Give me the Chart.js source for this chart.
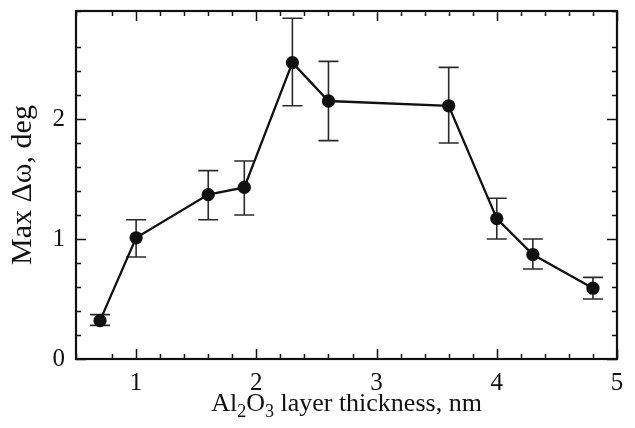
<!DOCTYPE html>
<html lang="en">
<head>
    <meta charset="UTF-8">
    <title>Max Δω vs Al2O3 thickness</title>
    <style>
        html, body { margin: 0; padding: 0; background: #fff; }
        #wrap { width: 635px; height: 428px; }
    </style>
</head>
<body>
    <div id="wrap"><canvas id="chart" width="635" height="428"></canvas></div>

    <script src="https://cdn.jsdelivr.net/npm/chart.js"></script>
    <script>
        // thickness, nm
        var thickness = [0.7, 1.0, 1.6, 1.9, 2.3, 2.6, 3.6, 4.0, 4.3, 4.8];
        // max delta omega, deg
        var maxDw     = [0.32, 1.01, 1.37, 1.43, 2.47, 2.15, 2.11, 1.17, 0.87, 0.59];
        var errHigh   = [0.37, 1.16, 1.57, 1.65, 2.84, 2.48, 2.43, 1.34, 1.00, 0.68];
        var errLow    = [0.28, 0.85, 1.16, 1.20, 2.11, 1.82, 1.80, 1.00, 0.75, 0.50];

        var serif = '"Liberation Serif", "Times New Roman", serif';

        var points = thickness.map(function(t, i) { return {x: t, y: maxDw[i]}; });

        function isMajor(v) { return Math.abs(v - Math.round(v)) < 1e-6; }

        // error bars, drawn under the markers
        var errorBars = {
            id: 'errorBars',
            beforeDatasetsDraw: function(chart) {
                var ctx = chart.ctx, xs = chart.scales.x, ys = chart.scales.y;
                ctx.save();
                ctx.strokeStyle = '#2a2a2a';
                ctx.lineWidth = 1.6;
                for (var i = 0; i < thickness.length; i++) {
                    var px = xs.getPixelForValue(thickness[i]);
                    var hi = ys.getPixelForValue(errHigh[i]);
                    var lo = ys.getPixelForValue(errLow[i]);
                    ctx.beginPath();
                    ctx.moveTo(px, hi); ctx.lineTo(px, lo);
                    ctx.moveTo(px - 10, hi); ctx.lineTo(px + 10, hi);
                    ctx.moveTo(px - 10, lo); ctx.lineTo(px + 10, lo);
                    ctx.stroke();
                }
                ctx.restore();
            }
        };

        // frame with inward ticks on all four sides + x title with subscripts
        var frame = {
            id: 'frame',
            afterDraw: function(chart) {
                var ctx = chart.ctx, a = chart.chartArea;
                var xs = chart.scales.x, ys = chart.scales.y;
                ctx.save();
                ctx.strokeStyle = '#111';
                ctx.lineWidth = 1.5;
                ctx.beginPath();
                xs.ticks.forEach(function(t) {
                    var px = Math.round(xs.getPixelForValue(t.value)) + 0.5;
                    var len = isMajor(t.value) ? 10 : 5;
                    ctx.moveTo(px, a.bottom); ctx.lineTo(px, a.bottom - len);
                    ctx.moveTo(px, a.top); ctx.lineTo(px, a.top + len);
                });
                ys.ticks.forEach(function(t) {
                    var py = Math.round(ys.getPixelForValue(t.value)) + 0.5;
                    var len = isMajor(t.value) ? 10 : 5;
                    ctx.moveTo(a.left, py); ctx.lineTo(a.left + len, py);
                    ctx.moveTo(a.right, py); ctx.lineTo(a.right - len, py);
                });
                ctx.stroke();
                ctx.lineWidth = 2.2;
                ctx.strokeRect(a.left, a.top, a.right - a.left, a.bottom - a.top);

                // x axis title: Al2O3 layer thickness, nm
                var parts = [['Al', 0], ['2', 1], ['O', 0], ['3', 1], [' layer thickness, nm', 0]];
                var big = '26px ' + serif, small = '18px ' + serif;
                var w = 0;
                parts.forEach(function(p) { ctx.font = p[1] ? small : big; w += ctx.measureText(p[0]).width; });
                var x = (a.left + a.right) / 2 - w / 2, base = 411;
                ctx.fillStyle = '#111';
                ctx.textBaseline = 'alphabetic';
                parts.forEach(function(p) {
                    ctx.font = p[1] ? small : big;
                    ctx.fillText(p[0], x, p[1] ? base + 6 : base);
                    x += ctx.measureText(p[0]).width;
                });
                ctx.restore();
            }
        };

        var ctx = document.getElementById('chart').getContext('2d');
        var chart = new Chart(ctx, {
            type: 'scatter',
            data: {
                datasets: [{
                    data: points,
                    showLine: true,
                    borderColor: '#111',
                    borderWidth: 2.3,
                    backgroundColor: '#111',
                    pointRadius: 5.5,
                    pointHoverRadius: 5.5
                }]
            },
            options: {
                responsive: false,
                animation: false,
                events: [],
                layout: { padding: { left: 0, top: 11, right: 18, bottom: 0 } },
                plugins: { legend: { display: false }, tooltip: { enabled: false } },
                scales: {
                    x: {
                        type: 'linear', min: 0.5, max: 5,
                        afterFit: function(s) { s.height = 69; s.paddingLeft = 0; s.paddingRight = 0; },
                        grid: { display: false, drawTicks: false },
                        border: { display: false },
                        ticks: {
                            stepSize: 0.2, autoSkip: false, maxRotation: 0, padding: 9,
                            color: '#111', font: { family: serif, size: 25 },
                            callback: function(v) { return isMajor(v) ? String(Math.round(v)) : ''; }
                        }
                    },
                    y: {
                        type: 'linear', min: 0, max: 2.9,
                        afterFit: function(s) { s.width = 76; s.paddingTop = 0; s.paddingBottom = 0; },
                        grid: { display: false, drawTicks: false },
                        border: { display: false },
                        title: {
                            display: true, text: 'Max Δω, deg', color: '#111',
                            font: { family: serif, size: 30 }, padding: { top: 5, bottom: 0 }
                        },
                        ticks: {
                            stepSize: 0.2, autoSkip: false, padding: 11,
                            color: '#111', font: { family: serif, size: 25 },
                            callback: function(v) { return isMajor(v) ? String(Math.round(v)) : ''; }
                        }
                    }
                }
            },
            plugins: [errorBars, frame]
        });
    </script>
</body>
</html>
